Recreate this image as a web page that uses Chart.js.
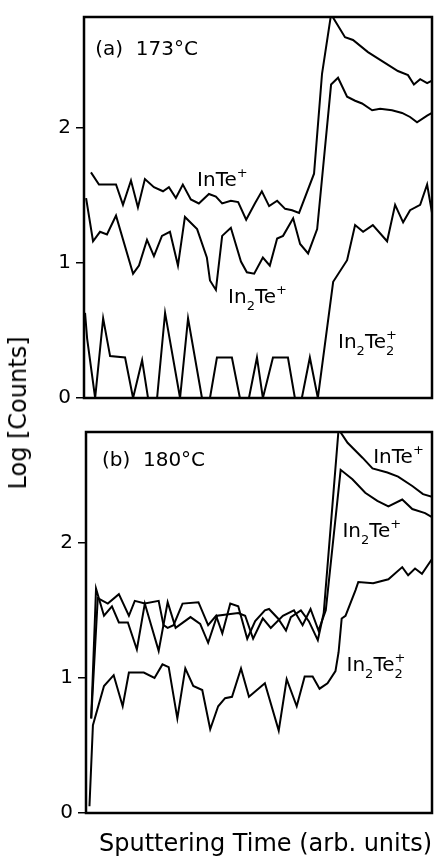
<!DOCTYPE html>
<html>
<head>
<meta charset="utf-8">
<script src="https://cdn.jsdelivr.net/npm/chart.js@4"></script>
<style>
body { margin: 0; background: #fff; width: 436px; height: 863px; position: relative; overflow: hidden; font-family: "DejaVu Sans", sans-serif; }
.box { position: absolute; left: 0; width: 436px; }
#ylab { position: absolute; left: 18px; top: 413px; transform: translate(-50%, -50%) rotate(-90deg); font-size: 24px; white-space: nowrap; color: #000; }
</style>
</head>
<body>
<div class="box" style="top:0;height:415px"><canvas id="chartA"></canvas></div>
<div class="box" style="top:415px;height:448px"><canvas id="chartB"></canvas></div>
<div id="ylab">Log [Counts]</div>
<script>
// 縦軸の目盛
var yTicks = [0, 1, 2];
var yMax = 2.82;

// (a) 173°C  [スパッタ時間, log(カウント)]
var aInTe = [[2.0,1.67],[4.3,1.58],[9.2,1.58],[11.2,1.43],[13.5,1.61],[15.5,1.41],[17.5,1.62],[20.1,1.56],
  [22.7,1.53],[24.4,1.56],[26.4,1.48],[28.4,1.58],[30.7,1.47],[33.0,1.44],[35.9,1.51],[37.9,1.49],[39.7,1.44],
  [42.2,1.46],[44.3,1.45],[46.6,1.32],[49.1,1.44],[51.1,1.53],[53.2,1.42],[55.5,1.46],[57.8,1.40],[59.8,1.39],
  [61.8,1.37],[66.1,1.66],[68.4,2.40],[71.0,2.84],[75.0,2.67],[77.3,2.65],[81.6,2.56],[85.9,2.49],[90.2,2.42],
  [93.1,2.39],[94.8,2.32],[96.6,2.36],[98.6,2.33],[100,2.35]];
var aIn2Te = [[0.6,1.48],[2.6,1.16],[4.6,1.23],[6.6,1.21],[9.2,1.35],[14.1,0.92],[15.8,0.98],[18.1,1.17],
  [20.1,1.05],[22.4,1.20],[24.7,1.23],[27.0,0.98],[29.0,1.34],[32.5,1.25],[35.3,1.04],[36.2,0.87],[37.9,0.80],
  [39.7,1.20],[42.2,1.26],[45.1,1.01],[46.8,0.93],[48.9,0.92],[51.4,1.04],[53.4,0.98],[55.5,1.18],[57.2,1.20],
  [60.1,1.33],[62.1,1.14],[64.4,1.07],[67.0,1.25],[71.0,2.32],[73.0,2.37],[75.6,2.23],[77.9,2.20],[79.9,2.18],
  [82.8,2.13],[85.1,2.14],[88.5,2.13],[91.4,2.11],[93.7,2.08],[95.7,2.04],[98.6,2.09],[100,2.11]];
var aIn2Te2 = [[0.3,0.63],[0.9,0.44],[3.2,0],[5.5,0.59],[7.5,0.31],[11.8,0.30],[14.1,0],[16.7,0.28],[18.4,0],
  [21.0,0],[23.3,0.63],[27.6,0],[29.9,0.59],[33.9,0],[36.2,0],[38.2,0.30],[42.5,0.30],[44.8,0],[47.4,0],
  [49.7,0.30],[51.4,0],[54.3,0.30],[58.6,0.30],[60.6,0],[62.6,0],[64.9,0.30],[67.2,0],[71.6,0.86],[75.6,1.02],
  [77.9,1.28],[80.2,1.23],[83.0,1.28],[87.1,1.16],[89.4,1.43],[91.7,1.30],[93.7,1.39],[96.6,1.43],[98.6,1.58],[100,1.37]];

// (b) 180°C
var bInTe = [[1.5,0.70],[3.4,1.59],[6.3,1.55],[9.5,1.62],[12.4,1.46],[14.1,1.57],[17.0,1.55],[21.0,1.57],
  [22.4,1.39],[23.6,1.37],[25.3,1.39],[27.9,1.55],[32.5,1.56],[35.3,1.39],[37.6,1.46],[39.4,1.33],[41.7,1.55],
  [44.0,1.53],[46.6,1.29],[48.9,1.42],[51.7,1.50],[52.9,1.51],[55.5,1.44],[57.8,1.35],[59.2,1.45],[62.1,1.50],
  [64.4,1.42],[67.0,1.28],[68.7,1.48],[73.0,2.84],[75.6,2.74],[79.9,2.63],[82.8,2.55],[87.1,2.52],[90.2,2.49],
  [94.3,2.42],[97.4,2.36],[100,2.34]];
var bIn2Te = [[1.5,0.70],[2.9,1.66],[5.2,1.46],[7.5,1.53],[9.5,1.41],[12.1,1.41],[14.7,1.21],[17.0,1.55],
  [21.0,1.20],[23.6,1.56],[25.9,1.37],[30.2,1.45],[33.0,1.40],[35.3,1.26],[37.9,1.46],[44.0,1.48],[46.0,1.46],
  [48.3,1.29],[51.1,1.44],[53.4,1.37],[56.9,1.46],[60.1,1.50],[62.6,1.39],[64.9,1.51],[67.2,1.35],[69.3,1.50],
  [73.6,2.54],[77.0,2.47],[80.7,2.37],[84.2,2.31],[87.4,2.27],[91.4,2.32],[94.3,2.25],[98.0,2.22],[100,2.19]];
var bIn2Te2 = [[1.0,0.05],[2.0,0.65],[5.2,0.94],[8.0,1.02],[10.6,0.79],[12.4,1.04],[16.7,1.04],[19.8,1.00],
  [22.1,1.10],[23.9,1.08],[26.4,0.70],[28.7,1.07],[31.0,0.94],[33.6,0.91],[35.9,0.62],[38.2,0.79],[40.2,0.85],
  [42.2,0.86],[44.8,1.07],[47.1,0.86],[51.7,0.96],[55.7,0.61],[58.0,0.99],[60.9,0.79],[63.2,1.01],[65.5,1.01],
  [67.5,0.92],[69.8,0.96],[72.1,1.05],[73.0,1.19],[73.9,1.44],[75.0,1.46],[77.9,1.65],[78.7,1.71],[83.0,1.70],
  [87.4,1.73],[91.4,1.82],[93.1,1.76],[95.1,1.81],[97.1,1.77],[100,1.88]];

var FONT = '"DejaVu Sans", sans-serif';

// 枠線を描くプラグイン
var boxPlugin = {
  id: 'box',
  afterDatasetsDraw: function(chart) {
    var a = chart.chartArea, c = chart.ctx;
    c.save();
    c.strokeStyle = '#000';
    c.lineWidth = 2.5;
    c.strokeRect(a.left, a.top, a.right - a.left, a.bottom - a.top);
    c.restore();
  }
};

// 系列名・温度を書き込むプラグイン（添字つき）
var labelPlugin = {
  id: 'seriesLabels',
  afterDraw: function(chart, args, opts) {
    var c = chart.ctx, xs = chart.scales.x, ys = chart.scales.y;
    c.save();
    c.fillStyle = '#000';
    c.textBaseline = 'alphabetic';
    (opts.items || []).forEach(function(it) {
      var x = xs.getPixelForValue(it.x), y = ys.getPixelForValue(it.y);
      it.parts.forEach(function(p) {
        var kind = p[1] || '';
        if (kind === '') {
          c.font = '20px ' + FONT;
          c.fillText(p[0], x, y);
          x += c.measureText(p[0]).width;
        } else {
          c.font = '13px ' + FONT;
          var dy = (kind.indexOf('sub') === 0) ? 7 : -9;
          c.fillText(p[0], x, y + dy);
          if (kind.slice(-2) !== 'nb') x += c.measureText(p[0]).width;
        }
      });
    });
    c.restore();
  }
};

function toXY(arr) {
  return arr.map(function(p) { return { x: p[0], y: p[1] }; });
}

function lineSet(arr) {
  return {
    data: toXY(arr),
    borderColor: '#000',
    borderWidth: 2,
    pointRadius: 0,
    tension: 0,
    fill: false
  };
}

function makeChart(id, sets, left, padding, xHeight, xTitle, items) {
  return new Chart(document.getElementById(id), {
    type: 'line',
    data: { datasets: sets.map(lineSet) },
    options: {
      responsive: true,
      maintainAspectRatio: false,
      animation: false,
      layout: { padding: padding },
      plugins: {
        legend: { display: false },
        tooltip: { enabled: false },
        seriesLabels: { items: items }
      },
      scales: {
        x: {
          type: 'linear', min: 0, max: 100,
          ticks: { display: false },
          grid: { display: false },
          border: { display: false },
          title: {
            display: !!xTitle, text: xTitle || '', align: 'end', color: '#000',
            font: { family: FONT, size: 24 }, padding: { top: 0, bottom: 4 }
          },
          afterFit: function(s) { s.height = xHeight; }
        },
        y: {
          type: 'linear', min: 0, max: yMax,
          afterFit: function(s) { s.width = left; },
          afterBuildTicks: function(s) { s.ticks = yTicks.map(function(v) { return { value: v }; }); },
          ticks: { color: '#000', padding: 5, font: { family: FONT, size: 20 } },
          grid: { drawOnChartArea: false, drawTicks: true, tickLength: 8, color: '#000', lineWidth: 1.5 },
          border: { display: false }
        }
      }
    },
    plugins: [boxPlugin, labelPlugin]
  });
}

makeChart('chartA', [aInTe, aIn2Te, aIn2Te2], 84, { left: 0, right: 4, top: 8, bottom: 8 }, 0, null, [
  { x: 3.2, y: 2.54, parts: [['(a)  173°C']] },
  { x: 32.5, y: 1.57, parts: [['InTe'], ['+', 'sup']] },
  { x: 41.4, y: 0.70, parts: [['In'], ['2', 'sub'], ['Te'], ['+', 'sup']] },
  { x: 73.0, y: 0.37, parts: [['In'], ['2', 'sub'], ['Te'], ['+', 'supnb'], ['2', 'sub']] }
]);

makeChart('chartB', [bInTe, bIn2Te, bIn2Te2], 86, { left: 0, right: 4, top: 7, bottom: 0 }, 50,
  'Sputtering Time (arb. units)', [
  { x: 4.6, y: 2.57, parts: [['(b)  180°C']] },
  { x: 83.0, y: 2.59, parts: [['InTe'], ['+', 'sup']] },
  { x: 74.1, y: 2.04, parts: [['In'], ['2', 'sub'], ['Te'], ['+', 'sup']] },
  { x: 75.3, y: 1.05, parts: [['In'], ['2', 'sub'], ['Te'], ['+', 'supnb'], ['2', 'sub']] }
]);
</script>
</body>
</html>
